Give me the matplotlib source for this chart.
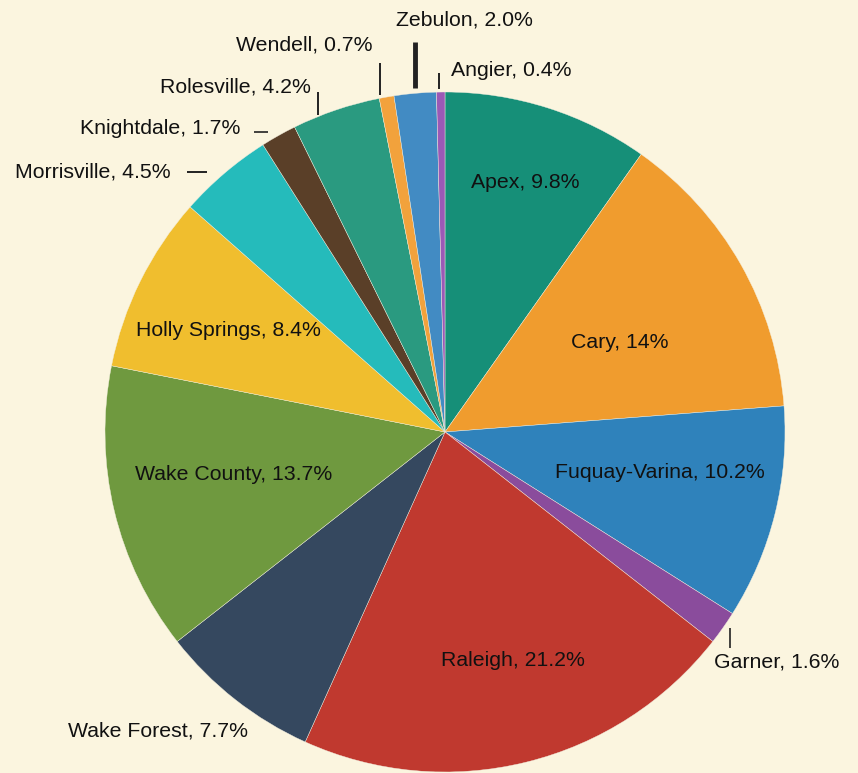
import matplotlib
matplotlib.use("Agg")
import matplotlib.pyplot as plt

# slice data, clockwise from 12 o'clock
towns = ["Apex", "Cary", "Fuquay-Varina", "Garner", "Raleigh", "Wake Forest",
         "Wake County", "Holly Springs", "Morrisville", "Knightdale",
         "Rolesville", "Wendell", "Zebulon", "Angier"]
shares = [9.8, 14, 10.2, 1.6, 21.2, 7.7, 13.7, 8.4, 4.5, 1.7, 4.2, 0.7, 2.0, 0.4]
share_text = ["9.8%", "14%", "10.2%", "1.6%", "21.2%", "7.7%", "13.7%", "8.4%",
              "4.5%", "1.7%", "4.2%", "0.7%", "2.0%", "0.4%"]
colors = ["#168f78", "#f09c2e", "#2f82bb", "#8a4c9c", "#c0392f", "#35485f",
          "#6f993f", "#f0be2e", "#25bbbb", "#5a3f28", "#2a9a80", "#f2a23c",
          "#428bc3", "#9b59b6"]

W, H = 858, 773
BG = "#fbf5df"

# label placement in pixel coords (x, y from top, horizontal alignment)
label_pos = {
    "Apex": (525, 183, "center"),
    "Cary": (620, 342, "center"),
    "Fuquay-Varina": (660, 473, "center"),
    "Garner": (714, 662, "left"),
    "Raleigh": (513, 660, "center"),
    "Wake Forest": (158, 731, "center"),
    "Wake County": (234, 474, "center"),
    "Holly Springs": (228, 331, "center"),
    "Morrisville": (171, 172, "right"),
    "Knightdale": (240, 129, "right"),
    "Rolesville": (311, 87, "right"),
    "Wendell": (373, 45, "right"),
    "Zebulon": (396, 20, "left"),
    "Angier": (451, 70, "left"),
}
# leader ticks: (x0, y0, x1, y1, width)
ticks = {
    "Garner": (730, 628, 730, 648, 1.2),
    "Morrisville": (187, 172, 207, 172, 1.4),
    "Knightdale": (254, 132, 268, 132, 1.2),
    "Rolesville": (318, 92, 318, 115, 1.4),
    "Wendell": (380, 63, 380, 95, 1.4),
    "Zebulon": (415, 42, 415, 88, 3.5),
    "Angier": (439, 73, 439, 89, 1.4),
}

fig = plt.figure(figsize=(W / 100, H / 100), dpi=100, facecolor=BG)
ax = fig.add_axes([0, 0, 1, 1])
ax.set_facecolor(BG)
ax.axis("off")

ax.pie(shares, colors=colors, startangle=90, counterclock=False,
       center=(445, H - 432), radius=340,
       wedgeprops=dict(edgecolor="#f3efe0", linewidth=0.3))
ax.set_aspect("equal")
ax.set_xlim(0, W)
ax.set_ylim(0, H)

for name, txt in zip(towns, share_text):
    x, y, ha = label_pos[name]
    ax.text(x, H - y, f"{name}, {txt}", ha=ha, va="center",
            fontsize=15.3, family="Liberation Sans", color="#111111")
    if name in ticks:
        x0, y0, x1, y1, lw = ticks[name]
        ax.plot([x0, x1], [H - y0, H - y1], color="#222222", lw=lw,
                solid_capstyle="butt")

fig.savefig("out.png", dpi=100, facecolor=BG)
